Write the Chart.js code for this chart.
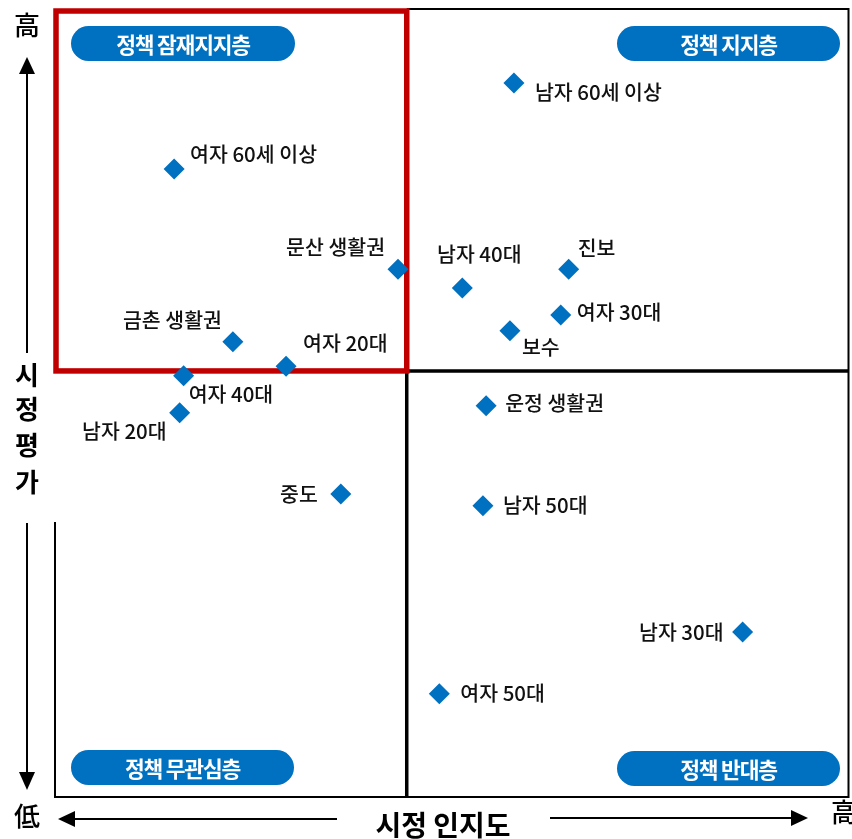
<!DOCTYPE html>
<html lang="ko">
<head>
<meta charset="utf-8">
<script src="https://cdn.jsdelivr.net/npm/chart.js@4.4.1/dist/chart.umd.min.js"></script>
<style>
  html, body { margin: 0; padding: 0; background: #fff; overflow: hidden; }
  #wrap { width: 852px; height: 839px; position: relative; }
  canvas { display: block; }
</style>
</head>
<body>
<div id="wrap"><canvas id="quadChart"></canvas></div>
<script>
// groups plotted on awareness (x) vs evaluation (y), both 0-100
const groups = ['남자 60세 이상', '여자 60세 이상', '문산 생활권', '남자 40대', '진보', '여자 30대', '보수', '금촌 생활권',
  '여자 20대', '여자 40대', '남자 20대', '중도', '운정 생활권', '남자 50대', '남자 30대', '여자 50대'];
const awareness = [57.8, 15.0, 43.2, 51.3, 64.7, 63.7, 57.3, 22.4, 29.1, 16.2, 15.7, 36.0, 54.3, 53.9, 86.6, 48.4];
const evaluation = [90.5, 79.6, 66.9, 64.5, 66.9, 61.1, 59.1, 57.7, 54.6, 53.4, 48.7, 38.4, 49.6, 36.9, 20.9, 13.1];

// quadrant split lines
const midX = 44.3;
const midY = 54.0;

const quadrantNames = ['정책 잠재지지층', '정책 지지층', '정책 무관심층', '정책 반대층'];
const axisTitleX = '시정 인지도';
const axisTitleY = '시정평가';
const highLabel = '高';
const lowLabel = '低';

// where each label sits relative to its diamond
const labelPlace = {
  '남자 60세 이상': ['left', 21, 9],
  '여자 60세 이상': ['left', 16, -15],
  '문산 생활권': ['right', -13, -22],
  '남자 40대': ['center', 17, -34],
  '진보': ['left', 9, -21],
  '여자 30대': ['left', 16, -3],
  '보수': ['left', 12, 17],
  '금촌 생활권': ['right', -11, -22],
  '여자 20대': ['left', 17, -23],
  '여자 40대': ['left', 5, 19],
  '남자 20대': ['right', -13, 18],
  '중도': ['right', -23, 0],
  '운정 생활권': ['left', 19, -2],
  '남자 50대': ['left', 20, -1],
  '남자 30대': ['right', -19, 0],
  '여자 50대': ['left', 21, 0]
};

const BLUE = '#0070C0';
const FONT = '"Noto Sans CJK KR", "Noto Sans", sans-serif';

function pill(ctx, x, y, w, h, text) {
  const r = h / 2;
  ctx.fillStyle = BLUE;
  ctx.beginPath();
  ctx.moveTo(x + r, y);
  ctx.lineTo(x + w - r, y);
  ctx.arc(x + w - r, y + r, r, -Math.PI / 2, Math.PI / 2);
  ctx.lineTo(x + r, y + h);
  ctx.arc(x + r, y + r, r, Math.PI / 2, Math.PI * 1.5);
  ctx.closePath();
  ctx.fill();
  ctx.fillStyle = '#fff';
  ctx.font = 'bold 21.5px ' + FONT;
  ctx.letterSpacing = '-1.2px';
  ctx.textAlign = 'center';
  ctx.textBaseline = 'middle';
  ctx.fillText(text, x + w / 2, y + h / 2 + 1);
  ctx.letterSpacing = '0px';
}

function triangle(ctx, p1, p2, p3) {
  ctx.beginPath();
  ctx.moveTo(p1[0], p1[1]);
  ctx.lineTo(p2[0], p2[1]);
  ctx.lineTo(p3[0], p3[1]);
  ctx.closePath();
  ctx.fill();
}

const quadrantPlugin = {
  id: 'quadrants',
  beforeDatasetsDraw(chart) {
    const { ctx, chartArea: a, scales: { x, y } } = chart;
    const mx = x.getPixelForValue(midX);
    const my = y.getPixelForValue(midY);
    ctx.save();

    // outer frame (left side only on the lower part)
    ctx.strokeStyle = '#000';
    ctx.lineWidth = 2;
    ctx.beginPath();
    ctx.moveTo(mx, a.top + 1);
    ctx.lineTo(a.right - 0.5, a.top + 1);
    ctx.lineTo(a.right - 0.5, a.bottom);
    ctx.lineTo(a.left, a.bottom);
    ctx.lineTo(a.left, 522);
    ctx.stroke();

    // split lines
    ctx.lineWidth = 3.5;
    ctx.beginPath();
    ctx.moveTo(mx, my);
    ctx.lineTo(mx, a.bottom);
    ctx.moveTo(mx - 2, my);
    ctx.lineTo(a.right, my);
    ctx.stroke();

    // highlighted quadrant
    ctx.strokeStyle = '#C00000';
    ctx.lineWidth = 5.5;
    ctx.strokeRect(a.left + 1, a.top + 3, mx - a.left - 1, my - a.top - 3);

    // quadrant name pills
    pill(ctx, a.left + 16, 26, 224, 35, quadrantNames[0]);
    pill(ctx, a.right - 232, 26, 223, 35, quadrantNames[1]);
    pill(ctx, a.left + 16, 750, 223, 35, quadrantNames[2]);
    pill(ctx, a.right - 232, 751, 223, 35, quadrantNames[3]);

    // y axis arrow
    ctx.strokeStyle = '#000';
    ctx.fillStyle = '#000';
    ctx.lineWidth = 2;
    ctx.beginPath();
    ctx.moveTo(27, 72);
    ctx.lineTo(27, 353);
    ctx.moveTo(27, 523);
    ctx.lineTo(27, 774);
    ctx.stroke();
    triangle(ctx, [27, 57], [19, 74], [35, 74]);
    triangle(ctx, [27, 790], [19, 772], [35, 772]);

    // x axis arrow
    ctx.beginPath();
    ctx.moveTo(73, 819);
    ctx.lineTo(337, 819);
    ctx.moveTo(550, 818);
    ctx.lineTo(793, 818);
    ctx.stroke();
    triangle(ctx, [58, 819], [75, 811], [75, 827]);
    triangle(ctx, [808, 818], [791, 810], [791, 826]);

    ctx.textAlign = 'center';
    ctx.textBaseline = 'middle';
    ctx.font = 'bold 26px ' + FONT;
    const cy = [375, 409, 445, 482];
    axisTitleY.split('').forEach((ch, i) => ctx.fillText(ch, 27, cy[i]));
    ctx.font = 'bold 28px ' + FONT;
    ctx.fillText(axisTitleX, 443, 825);
    ctx.font = '500 26px ' + FONT;
    ctx.fillText(highLabel, 27, 25);
    ctx.fillText(lowLabel, 27, 816);
    ctx.fillText(highLabel, 844, 812);
    ctx.restore();
  },
  afterDatasetsDraw(chart) {
    const { ctx } = chart;
    const meta = chart.getDatasetMeta(0);
    ctx.save();
    ctx.font = '500 20.5px ' + FONT;
    ctx.fillStyle = '#111';
    ctx.textBaseline = 'middle';
    meta.data.forEach((pt, i) => {
      const [side, dx, dy] = labelPlace[groups[i]];
      ctx.textAlign = side;
      ctx.fillText(groups[i], pt.x + dx, pt.y + dy);
    });
    ctx.restore();
  }
};

new Chart(document.getElementById('quadChart'), {
  type: 'scatter',
  data: {
    labels: groups,
    datasets: [{
      data: groups.map((g, i) => ({ x: awareness[i], y: evaluation[i] })),
      backgroundColor: BLUE,
      borderWidth: 0,
      pointStyle: 'rectRot',
      pointRadius: 10.5,
      pointHoverRadius: 10.5
    }]
  },
  options: {
    responsive: true,
    maintainAspectRatio: false,
    animation: false,
    layout: { autoPadding: false, padding: { left: 55, right: 3, top: 8, bottom: 42 } },
    plugins: { legend: { display: false }, tooltip: { enabled: false } },
    scales: {
      x: { type: 'linear', min: 0, max: 100, display: false },
      y: { type: 'linear', min: 0, max: 100, display: false }
    }
  },
  plugins: [quadrantPlugin]
});
</script>
</body>
</html>
